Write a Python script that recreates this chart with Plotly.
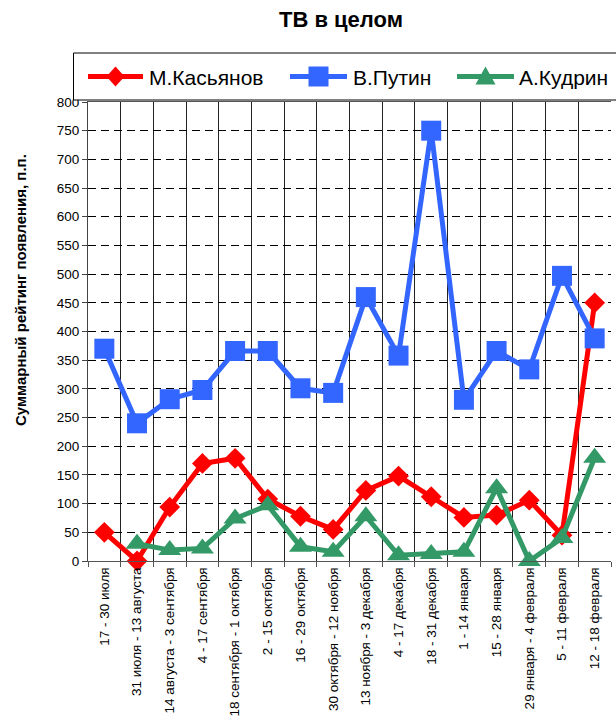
import plotly.graph_objects as go

# Two-week periods on the category axis
periods = [
    "17 - 30 июля",
    "31 июля - 13 августа",
    "14 августа - 3 сентября",
    "4 - 17 сентября",
    "18 сентября - 1 октября",
    "2 - 15 октября",
    "16 - 29 октября",
    "30 октября - 12 ноября",
    "13 ноября - 3 декабря",
    "4 - 17 декабря",
    "18 - 31 декабря",
    "1 - 14 января",
    "15 - 28 января",
    "29 января - 4 февраля",
    "5 - 11 февраля",
    "12 - 18 февраля",
]

# Summary appearance rating, p.p.
kasyanov = [50, 0, 94, 170, 179, 108, 78, 55, 123, 148, 112, 76, 80, 106, 45, 450]
putin = [370, 240, 282, 298, 366, 366, 301, 293, 460, 358, 750, 281, 366, 334, 497, 388]
kudrin = [None, 30, 19, 22, 74, 97, 25, 16, 78, 10, 12, 16, 127, 0, 40, 180]

names = ["М.Касьянов", "В.Путин", "А.Кудрин"]
colors = ["#FF0000", "#3366FF", "#339966"]
symbols = ["diamond", "square", "triangle-up"]
sizes = [16, 20, 20]
series = [kasyanov, putin, kudrin]

y_ticks = list(range(0, 801, 50))

FONT = "Arial, Liberation Sans, sans-serif"
W, H = 616, 720
L, R, T, B = 88, 5, 102, 159
PW, PH = W - L - R, H - T - B


def fx(px):
    """Pixel x -> paper x."""
    return (px - L) / PW


def fy(py):
    """Pixel y -> paper y."""
    return (H - B - py) / PH


fig = go.Figure()

for name, vals, col, sym, sz in zip(names, series, colors, symbols, sizes):
    fig.add_trace(go.Scatter(
        x=periods, y=vals, name=name, mode="lines+markers",
        line=dict(color=col, width=5),
        marker=dict(symbol=sym, size=sz, color=col, line=dict(width=0)),
        cliponaxis=False, showlegend=False,
    ))

shapes = []
annotations = []

# legend frame
shapes.append(dict(type="rect", xref="paper", yref="paper",
                   x0=fx(73.5), x1=fx(640), y0=fy(100), y1=fy(53),
                   line=dict(color="#000000", width=1), fillcolor="white",
                   layer="above"))

# legend entries: line sample, marker glyph, label
entry_x = [(88, 143, 147), (290, 347, 351), (457, 514, 517)]
ly = 76.5
for (x0, x1, tx), name, col, sym in zip(entry_x, names, colors, symbols):
    shapes.append(dict(type="line", xref="paper", yref="paper",
                       x0=fx(x0), x1=fx(x1), y0=fy(ly), y1=fy(ly),
                       line=dict(color=col, width=5), layer="above"))
    cx = (x0 + x1) / 2
    if sym == "diamond":
        pts = [(cx, ly - 10), (cx + 9, ly), (cx, ly + 10), (cx - 9, ly)]
    elif sym == "square":
        pts = [(cx - 10, ly - 10), (cx + 10, ly - 10), (cx + 10, ly + 10), (cx - 10, ly + 10)]
    else:
        pts = [(cx, ly - 10), (cx + 10, ly + 8), (cx - 10, ly + 8)]
    path = "M" + " L".join(f"{fx(a):.5f},{fy(b):.5f}" for a, b in pts) + " Z"
    shapes.append(dict(type="path", xref="paper", yref="paper", path=path,
                       fillcolor=col, line=dict(width=0), layer="above"))
    annotations.append(dict(text=name, xref="paper", yref="paper",
                            x=fx(tx), y=fy(ly + 1), xanchor="left", yanchor="middle",
                            showarrow=False, font=dict(family=FONT, size=21, color="#000000")))

# vertical axis title
annotations.append(dict(text="<b>Суммарный рейтинг появления, п.п.</b>",
                        xref="paper", yref="paper", x=fx(20), y=fy(290),
                        xanchor="center", yanchor="middle", textangle=-90,
                        showarrow=False, font=dict(family=FONT, size=15, color="#000000")))

fig.update_layout(
    width=W, height=H,
    margin=dict(l=L, r=R, t=T, b=B),
    paper_bgcolor="white", plot_bgcolor="white",
    font=dict(family=FONT, color="#000000"),
    title=dict(text="<b>ТВ в целом</b>", x=341 / W, xref="container", xanchor="center",
               y=1 - 19 / H, yref="container", yanchor="middle",
               font=dict(family=FONT, size=22, color="#000000")),
    showlegend=False,
    shapes=shapes,
    annotations=annotations,
)

fig.update_xaxes(
    type="category", categoryorder="array", categoryarray=periods,
    range=[-0.5, len(periods) - 0.5], automargin=False,
    tickson="boundaries", ticks="outside", ticklen=5, tickcolor="#555555",
    showgrid=True, gridcolor="#222222", gridwidth=1,
    showline=True, linecolor="#555555", linewidth=1, mirror=True,
    tickangle=-90, tickfont=dict(family=FONT, size=13.5, color="#000000"),
)

fig.update_yaxes(
    range=[0, 800], tickvals=y_ticks, ticktext=[str(v) for v in y_ticks],
    automargin=False,
    ticks="outside", ticklen=5, tickcolor="#444444",
    showgrid=True, gridcolor="#000000", gridwidth=1, griddash="8px,5px",
    showline=True, linecolor="#444444", linewidth=1, zeroline=False,
    tickfont=dict(family=FONT, size=13.5, color="#000000"),
)

fig.write_html("out.html")
